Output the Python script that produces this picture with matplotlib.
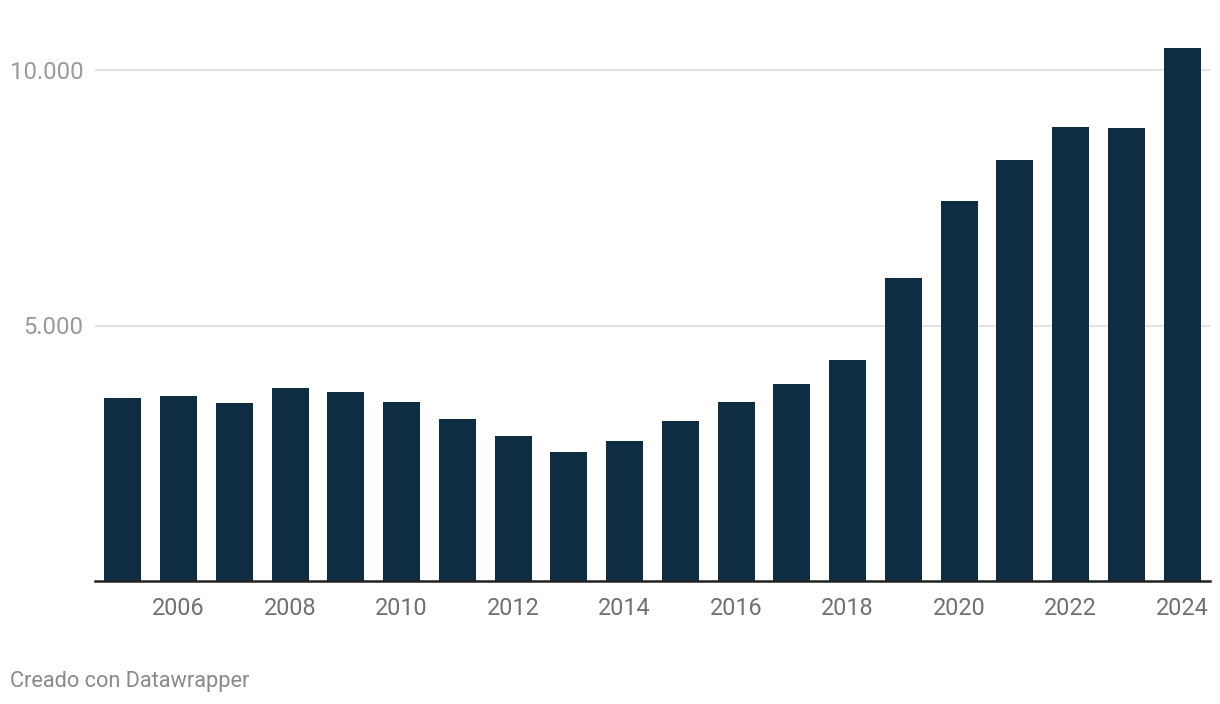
import matplotlib
matplotlib.use("Agg")
import matplotlib.pyplot as plt

years = list(range(2005, 2025))
values = [3581, 3620, 3483, 3777, 3699, 3503, 3170, 2838, 2524, 2740,
          3131, 3503, 3855, 4325, 5930, 7436, 8239, 8875, 8865, 10430]
ytick_vals = [5000, 10000]
ytick_labels = ["10.000" if v == 10000 else "5.000" for v in ytick_vals]
xtick_vals = list(range(2006, 2025, 2))
xtick_labels = [str(y) for y in xtick_vals]
credit = "Creado con Datawrapper"

plt.rcParams['font.family'] = ['Roboto', 'DejaVu Sans']

W, H = 1220, 704
fig = plt.figure(figsize=(W / 100, H / 100), dpi=100)
left_px, right_px = 95, 1210
base_px = 581
ymax = 10500
px_per_unit = 255.5 / 5000
top_px = base_px - ymax * px_per_unit
ax = fig.add_axes([left_px / W, (H - base_px) / H, (right_px - left_px) / W, (base_px - top_px) / H])

ax.bar(years, values, width=0.663, color="#0e2c42", zorder=3)
ax.set_xlim(2004.5, 2024.5)
ax.set_ylim(0, ymax)

ax.set_yticks(ytick_vals)
ax.set_yticklabels(ytick_labels)
ax.set_xticks(xtick_vals)
ax.set_xticklabels(xtick_labels)
ax.grid(axis='y', color="#e3e3e3", linewidth=1.5, zorder=0)
ax.tick_params(axis='y', length=0, pad=8.5, labelsize=17.2, labelcolor="#9a9a9a")
ax.tick_params(axis='x', length=0, pad=11.5, labelsize=16.8, labelcolor="#707070")
for s in ['top', 'right', 'left']:
    ax.spines[s].set_visible(False)
ax.spines['bottom'].set_color("#222222")
ax.spines['bottom'].set_linewidth(1.8)
ax.spines['bottom'].set_zorder(4)

fig.text(10 / W, 1 - 681 / H, credit, fontsize=15.7, color="#8a8a8a", ha='left', va='center')

fig.savefig("out.png", dpi=100, facecolor="white")
